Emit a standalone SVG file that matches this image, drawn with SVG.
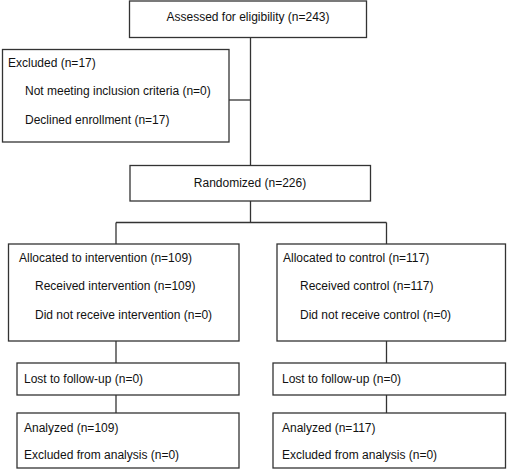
<svg xmlns="http://www.w3.org/2000/svg" width="507" height="469" viewBox="0 0 507 469">
<style>
rect.b{fill:#fff;stroke:#333;stroke-width:1.3}
line{stroke:#333;stroke-width:1.3}
text{font-family:"Liberation Sans",Arial,sans-serif;font-size:12px;fill:#111}
</style>
<rect width="507" height="469" style="fill:#fff;stroke:none"/>
<g id="connectors">
<line x1="250.5" y1="37.5" x2="250.5" y2="165.5"/>
<line x1="229" y1="100" x2="250.5" y2="100"/>
<line x1="250.5" y1="201" x2="250.5" y2="222.5"/>
<line x1="116" y1="222.5" x2="386.5" y2="222.5"/>
<line x1="116" y1="222.5" x2="116" y2="244"/>
<line x1="386.5" y1="222.5" x2="386.5" y2="244"/>
<line x1="116" y1="341" x2="116" y2="363"/>
<line x1="116" y1="395" x2="116" y2="413"/>
<line x1="386.5" y1="341" x2="386.5" y2="363"/>
<line x1="386.5" y1="395" x2="386.5" y2="413"/>
</g>
<g id="assessed">
<rect class="b" x="129.5" y="1" width="237" height="36.5"/>
<text x="248" y="20.5" text-anchor="middle">Assessed for eligibility (n=243)</text>
</g>
<g id="excluded">
<rect class="b" x="2.5" y="49.5" width="226.5" height="92.5"/>
<text x="8" y="67">Excluded (n=17)</text>
<text x="25" y="95">Not meeting inclusion criteria (n=0)</text>
<text x="25" y="123.5">Declined enrollment (n=17)</text>
</g>
<g id="randomized">
<rect class="b" x="130" y="165.5" width="240.5" height="35.5"/>
<text x="250" y="187" text-anchor="middle">Randomized (n=226)</text>
</g>
<g id="alloc-int">
<rect class="b" x="8.5" y="244" width="230.5" height="97"/>
<text x="19" y="261.5">Allocated to intervention (n=109)</text>
<text x="35" y="290">Received intervention (n=109)</text>
<text x="35" y="319">Did not receive intervention (n=0)</text>
</g>
<g id="alloc-ctl">
<rect class="b" x="277" y="244" width="228.5" height="97"/>
<text x="283" y="261.5">Allocated to control (n=117)</text>
<text x="300" y="290">Received control (n=117)</text>
<text x="300" y="319">Did not receive control (n=0)</text>
</g>
<g id="lost-int">
<rect class="b" x="17" y="363" width="222" height="32"/>
<text x="24" y="382.5">Lost to follow-up (n=0)</text>
</g>
<g id="lost-ctl">
<rect class="b" x="273" y="363" width="232.5" height="32"/>
<text x="282" y="382.5">Lost to follow-up (n=0)</text>
</g>
<g id="analyzed-int">
<rect class="b" x="17" y="413" width="222" height="55"/>
<text x="24" y="432">Analyzed (n=109)</text>
<text x="24" y="458.5">Excluded from analysis (n=0)</text>
</g>
<g id="analyzed-ctl">
<rect class="b" x="273" y="413" width="232.5" height="55"/>
<text x="282" y="432">Analyzed (n=117)</text>
<text x="282" y="458.5">Excluded from analysis (n=0)</text>
</g>
</svg>
